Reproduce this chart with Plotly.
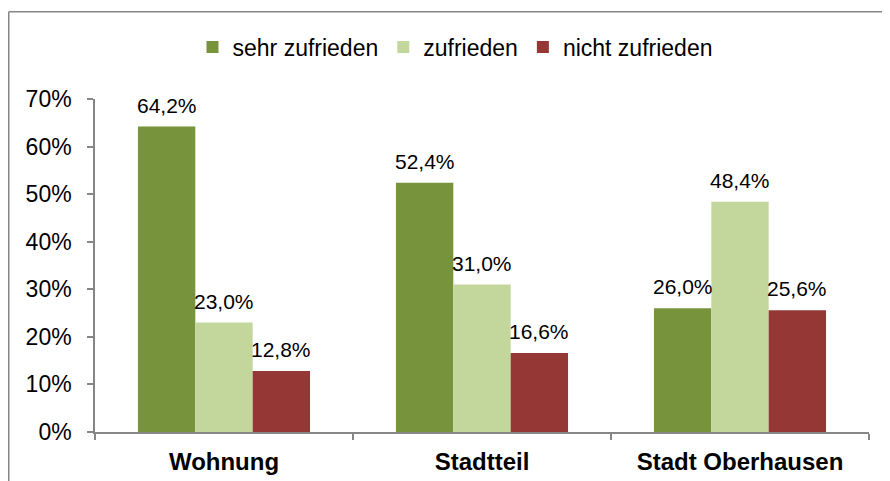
import plotly.graph_objects as go

categories = ["Wohnung", "Stadtteil", "Stadt Oberhausen"]
series_names = ["sehr zufrieden", "zufrieden", "nicht zufrieden"]
sehr_zufrieden = [0.642, 0.524, 0.260]
zufrieden = [0.230, 0.310, 0.484]
nicht_zufrieden = [0.128, 0.166, 0.256]
y_ticks = [0, 0.1, 0.2, 0.3, 0.4, 0.5, 0.6, 0.7]
y_tick_labels = ["0%", "10%", "20%", "30%", "40%", "50%", "60%", "70%"]

colors = ["#77933C", "#C3D69B", "#953735"]
series_values = [sehr_zufrieden, zufrieden, nicht_zufrieden]

# page has an 8px body margin, so the figure is shifted by 8px
OFF = 8
W, H = 890 - OFF, 481 - OFF
ML, MR, MT, MB = 95 - OFF, 21, 99 - OFF, 49
plot_w = W - ML - MR
plot_h = H - MT - MB

FONT = "Liberation Sans, Arial"

fig = go.Figure()
for name, vals, col in zip(series_names, series_values, colors):
    fig.add_trace(go.Bar(
        x=categories, y=vals, name=name,
        marker=dict(color=col, line=dict(width=0)),
    ))

bargap = 0.333
cat_w = plot_w / len(categories)
bar_w = cat_w * (1 - bargap) / len(series_names)
for i, vals in enumerate(series_values):
    shift = (i - 1) * bar_w
    for c, v in zip(categories, vals):
        fig.add_annotation(
            x=c, y=v, xref="x", yref="y",
            text=f"{v*100:.1f}%".replace(".", ","),
            showarrow=False, xshift=shift, yshift=8,
            yanchor="bottom", xanchor="center",
            font=dict(size=21, color="#000000", family=FONT),
        )

# chart border (left and top visible)
top_px = 11 - OFF + 0.75
left_px = 0.75
fig.add_shape(type="line", xref="paper", yref="paper",
              x0=(left_px - ML) / plot_w, x1=(W + 20 - ML) / plot_w,
              y0=1 + (MT - top_px) / plot_h, y1=1 + (MT - top_px) / plot_h,
              line=dict(color="#868686", width=1.5))
fig.add_shape(type="line", xref="paper", yref="paper",
              x0=(left_px - ML) / plot_w, x1=(left_px - ML) / plot_w,
              y0=1 + (MT - top_px) / plot_h, y1=-(MB + 20) / plot_h,
              line=dict(color="#868686", width=1.5))

fig.update_layout(
    width=W, height=H,
    margin=dict(l=ML, r=MR, t=MT, b=MB, pad=0),
    paper_bgcolor="white", plot_bgcolor="white",
    barmode="group", bargap=bargap, bargroupgap=0,
    font=dict(family=FONT, color="#000000"),
    showlegend=True,
    legend=dict(
        orientation="h", x=(455 - OFF - ML) / plot_w, xanchor="center",
        y=1 + (MT - (47 - OFF)) / plot_h, yanchor="middle",
        font=dict(size=23), itemwidth=30, traceorder="normal",
        bgcolor="rgba(0,0,0,0)",
    ),
    xaxis=dict(
        showline=True, linecolor="#868686", linewidth=1.5,
        ticks="outside", tickson="boundaries", ticklen=6, tickcolor="#868686", tickwidth=1.5,
        tickfont=dict(size=24, family=FONT, weight="bold"),
        showgrid=False, ticklabelstandoff=7, automargin=False,
    ),
    yaxis=dict(
        range=[0, 0.7], tickvals=y_ticks, ticktext=y_tick_labels,
        showline=True, linecolor="#868686", linewidth=1.5,
        ticks="outside", ticklen=6, tickcolor="#868686", tickwidth=1.5,
        tickfont=dict(size=23), showgrid=False, zeroline=False,
        ticklabelstandoff=11, automargin=False,
    ),
)

fig.write_html("out.html")
